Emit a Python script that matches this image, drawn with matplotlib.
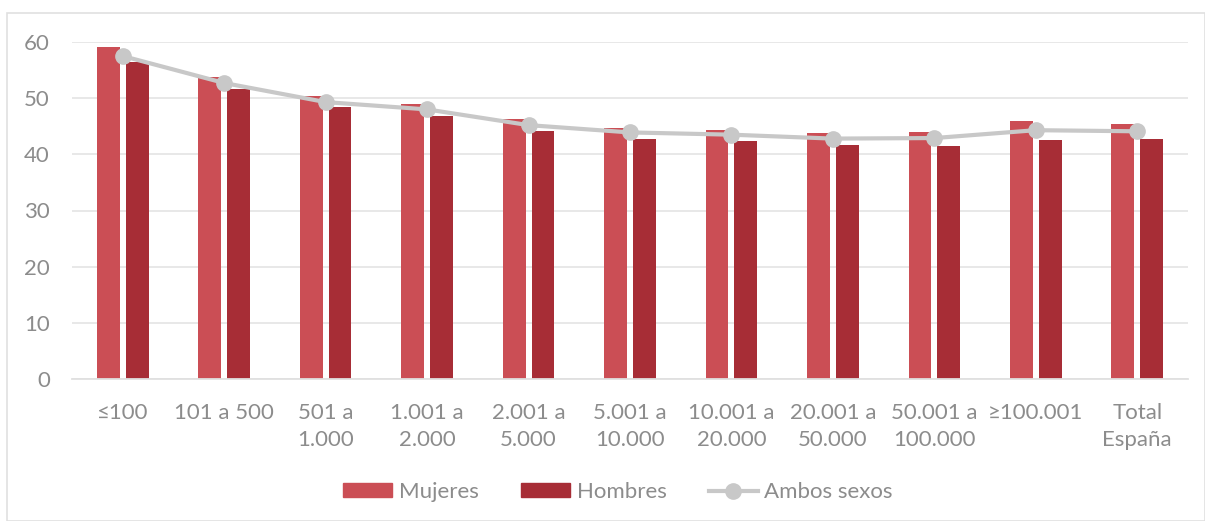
import matplotlib
matplotlib.use("Agg")
import matplotlib.pyplot as plt
import matplotlib.patches as mpatches
from matplotlib.lines import Line2D
import numpy as np

categories = ["≤100", "101 a 500", "501 a\n1.000", "1.001 a\n2.000", "2.001 a\n5.000",
              "5.001 a\n10.000", "10.001 a\n20.000", "20.001 a\n50.000", "50.001 a\n100.000",
              "≥100.001", "Total\nEspaña"]
mujeres = [59.1, 53.8, 50.4, 49.0, 46.3, 44.7, 44.4, 43.8, 44.0, 45.9, 45.4]
hombres = [56.4, 51.6, 48.4, 46.9, 44.2, 42.7, 42.4, 41.7, 41.5, 42.5, 42.7]
ambos = [57.5, 52.7, 49.3, 48.0, 45.2, 43.9, 43.5, 42.8, 42.9, 44.3, 44.1]

C_MUJ = "#CB4E55"
C_HOM = "#A72D36"
C_AMB = "#C8C8C8"
C_TXT = "#8C8C8C"

plt.rcParams.update({
    "font.family": ["Lato", "DejaVu Sans"],
    "font.size": 16,
})

fig = plt.figure(figsize=(12.05, 5.21), dpi=100)
ax = fig.add_axes([72 / 1205, 1 - 379 / 521, (1188 - 72) / 1205, (379 - 42) / 521])

x = np.arange(len(categories))
w = 0.225
ax.bar(x - 0.142, mujeres, width=w, color=C_MUJ, zorder=2)
ax.bar(x + 0.142, hombres, width=w, color=C_HOM, zorder=2)
ax.plot(x, ambos, color=C_AMB, linewidth=3, marker="o", markersize=11, zorder=3)

ax.set_xlim(-0.5, len(categories) - 0.5)
ax.set_ylim(0, 60)
ax.set_yticks(range(0, 61, 10))
ax.set_xticks(x)
ax.set_xticklabels(categories, linespacing=1.45)
ax.grid(axis="y", color="#E6E6E6", linewidth=1.3, zorder=0)
ax.set_axisbelow(True)
for s in ["top", "right", "left"]:
    ax.spines[s].set_visible(False)
ax.spines["bottom"].set_color("#E0E0E0")
ax.spines["bottom"].set_linewidth(1.3)
ax.tick_params(axis="both", length=0, colors=C_TXT, labelsize=16)
ax.tick_params(axis="x", pad=17)
ax.tick_params(axis="y", pad=16)

handles = [mpatches.Patch(color=C_MUJ, label="Mujeres"),
           mpatches.Patch(color=C_HOM, label="Hombres"),
           Line2D([0], [0], color=C_AMB, linewidth=3, marker="o", markersize=11, label="Ambos sexos")]
fig.legend(handles=handles, loc="center", bbox_to_anchor=(0.513, 1 - 492 / 521), ncol=3,
           frameon=False, fontsize=16, labelcolor=C_TXT, handlelength=2.2, handleheight=0.6,
           columnspacing=1.9, handletextpad=0.3)

fig.patches.append(mpatches.Rectangle((7 / 1205, 0), 1 - 7 / 1205, 1 - 13 / 521,
                                      transform=fig.transFigure, fill=False,
                                      edgecolor="#E0E0E0", linewidth=1.2))

fig.savefig("out.png", dpi=100)
